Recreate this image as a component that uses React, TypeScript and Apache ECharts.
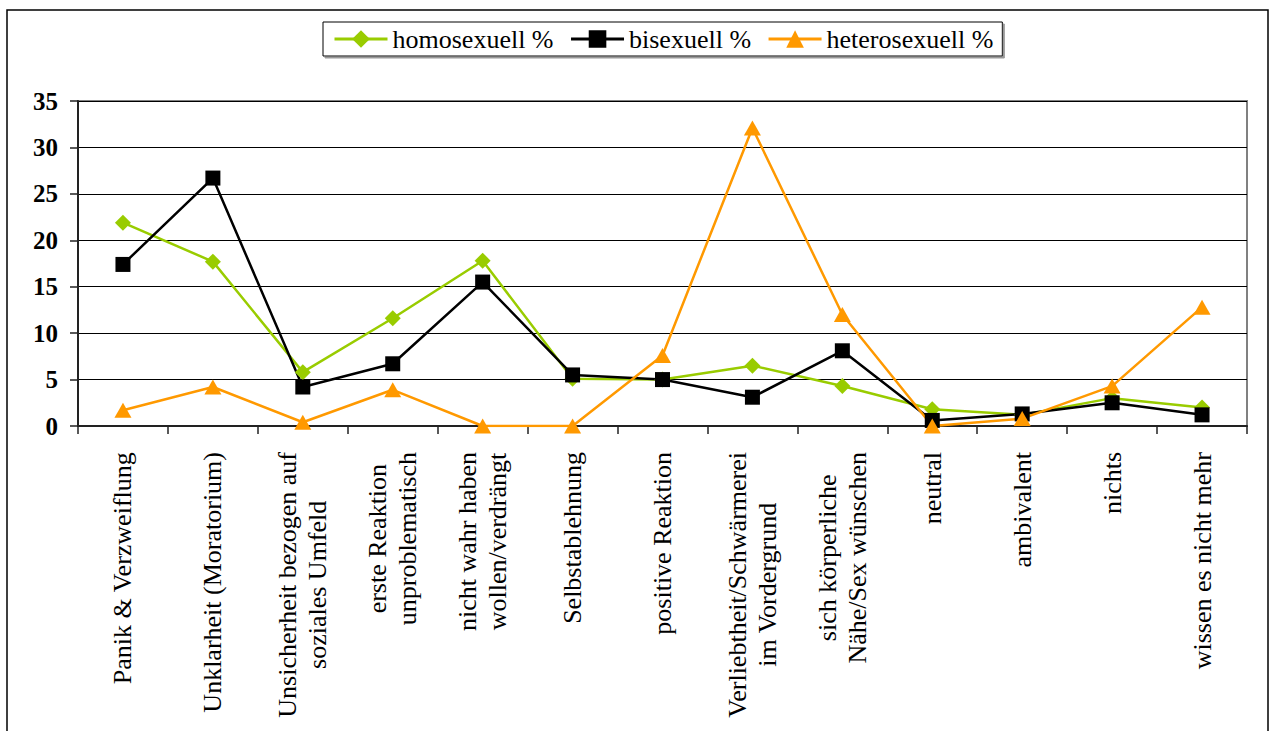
import React, { useEffect, useRef } from "react";
import * as echarts from "echarts";

const categories = [
  "Panik & Verzweiflung",
  "Unklarheit (Moratorium)",
  "Unsicherheit bezogen auf\nsoziales Umfeld",
  "erste Reaktion\nunproblematisch",
  "nicht wahr haben\nwollen/verdrängt",
  "Selbstablehnung",
  "positive Reaktion",
  "Verliebtheit/Schwärmerei\nim Vordergrund",
  "sich körperliche\nNähe/Sex wünschen",
  "neutral",
  "ambivalent",
  "nichts",
  "wissen es nicht mehr",
];

const homosexuell = [21.9, 17.7, 5.8, 11.6, 17.8, 5.1, 5.0, 6.5, 4.3, 1.8, 1.2, 3.0, 2.0];
const bisexuell = [17.4, 26.7, 4.2, 6.7, 15.5, 5.5, 5.0, 3.1, 8.1, 0.6, 1.3, 2.5, 1.2];
const heterosexuell = [1.7, 4.2, 0.4, 3.9, 0.0, 0.0, 7.6, 32.1, 12.0, 0.0, 0.8, 4.3, 12.8];

const seriesNames = ["homosexuell %", "bisexuell %", "heterosexuell %"];
const yTicks = { min: 0, max: 35, interval: 5 };

const FONT = "Liberation Serif";

export default function App() {
  const ref = useRef<HTMLDivElement>(null);
  useEffect(() => {
    if (!ref.current) return;
    const chart = echarts.init(ref.current, null, { renderer: "svg" });
    const mk = (name: string, data: number[], color: string, symbol: string, size: number | number[]) => ({
      name,
      type: "line",
      data,
      color,
      symbol,
      symbolSize: size,
      lineStyle: { color, width: 2.5 },
      itemStyle: { color },
      z: 3,
    });
    chart.setOption({
      animation: false,
      backgroundColor: "#fff",
      textStyle: { fontFamily: FONT },
      graphic: [
        {
          type: "rect",
          shape: { x: 7, y: 10, width: 1261, height: 800 },
          style: { fill: "none", stroke: "#000", lineWidth: 1.5 },
          silent: true,
          z: -1,
        },
      ],
      legend: {
        left: 323,
        top: 22,
        data: seriesNames,
        itemWidth: 53,
        itemHeight: 22,
        itemGap: 16,
        padding: [4, 9, 4, 10],
        borderColor: "#000",
        borderWidth: 1,
        backgroundColor: "#fff",
        shadowColor: "#999",
        shadowOffsetX: 2,
        shadowOffsetY: 2,
        shadowBlur: 0,
        lineStyle: { width: 3 },
        textStyle: { fontFamily: FONT, fontSize: 26, color: "#000" },
      },
      grid: {
        left: 78,
        right: 24,
        top: 101,
        bottom: 305,
        show: true,
        borderColor: "#808080",
        borderWidth: 2,
        backgroundColor: "transparent",
      },
      xAxis: {
        type: "category",
        data: categories,
        boundaryGap: true,
        axisLine: { lineStyle: { color: "#222", width: 2 } },
        axisTick: { show: true, length: 8, inside: false, lineStyle: { color: "#222", width: 1.5 } },
        axisLabel: {
          interval: 0,
          rotate: 90,
          margin: 26,
          color: "#000",
          fontFamily: FONT,
          fontSize: 26,
          lineHeight: 30,
          formatter: (v: string) => v.split("\n").map((l) => "{c|" + l + "}").join("\n"),
          rich: {
            c: { align: "center", fontFamily: FONT, fontSize: 26, lineHeight: 30, color: "#000" },
          },
        },
      },
      yAxis: {
        type: "value",
        min: yTicks.min,
        max: yTicks.max,
        interval: yTicks.interval,
        axisLine: { show: true, lineStyle: { color: "#222", width: 2 } },
        axisTick: { show: true, length: 8, lineStyle: { color: "#222", width: 1.5 } },
        axisLabel: {
          margin: 20,
          color: "#000",
          fontFamily: FONT,
          fontSize: 25,
          fontWeight: "bold",
        },
        splitLine: { show: true, lineStyle: { color: "#000", width: 1 } },
      },
      series: [
        mk(seriesNames[0], homosexuell, "#99CC00", "diamond", 16),
        mk(seriesNames[1], bisexuell, "#000000", "rect", 15),
        mk(seriesNames[2], heterosexuell, "#FF9900", "triangle", [17, 15]),
      ],
    });
    return () => chart.dispose();
  }, []);
  return (
    <div
      ref={ref}
      style={{ position: "fixed", left: 0, top: 0, width: 1271, height: 731, background: "#fff" }}
    />
  );
}
